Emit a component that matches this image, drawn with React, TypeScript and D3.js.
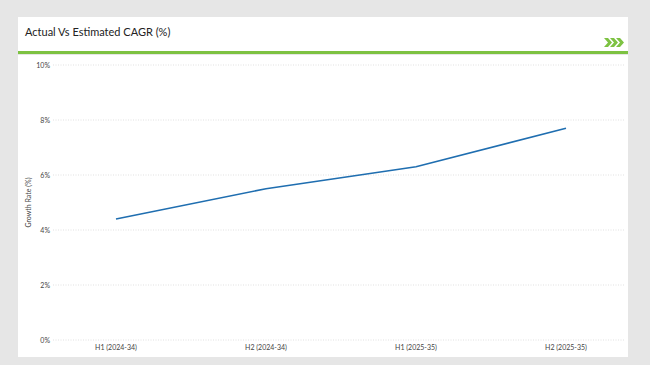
import * as d3 from 'd3';
import { useEffect, useRef } from 'react';

const categories = ['H1 (2024-34)', 'H2 (2024-34)', 'H1 (2025-35)', 'H2 (2025-35)'];
const growthValues = [4.4, 5.5, 6.3, 7.7];
const yTicks = [0, 2, 4, 6, 8, 10];

const W = 650;
const H = 365;

export default function App() {
  const svgRef = useRef<SVGSVGElement>(null);

  useEffect(() => {
    if (!svgRef.current) return;
    const svg = d3.select(svgRef.current);
    svg.selectAll('*').remove();

    const font = 'Lato, "Open Sans", sans-serif';

    // background + panels
    svg.append('rect').attr('width', W).attr('height', H).attr('fill', '#e6e6e6');
    svg.append('rect').attr('x', 18).attr('y', 17).attr('width', 610).attr('height', 35).attr('fill', '#fff');
    svg.append('rect').attr('x', 18).attr('y', 55).attr('width', 610).attr('height', 302).attr('fill', '#fff');
    svg.append('rect').attr('x', 18).attr('y', 51).attr('width', 610).attr('height', 3).attr('fill', '#7dc242');

    svg
      .append('text')
      .attr('x', 25)
      .attr('y', 36)
      .attr('font-family', font)
      .attr('font-size', 11)
      .attr('fill', '#222')
      .text('Actual Vs Estimated CAGR (%)');

    // chevrons
    const chev = svg.append('g').attr('fill', '#7dc242');
    [0, 6, 12].forEach((dx) => {
      const x = 604 + dx;
      chev
        .append('path')
        .attr('d', `M${x},38 L${x + 4},38 L${x + 8},42.5 L${x + 4},47 L${x},47 L${x + 4},42.5 Z`);
    });

    const left = 53;
    const right = 625;
    // category centres sit on 150px steps
    const x = d3.scalePoint<string>().domain(categories).range([41, 641]).padding(0.5);
    const y = d3.scaleLinear().domain([0, 10]).range([340, 65]);

    // grid
    svg
      .append('g')
      .selectAll('line')
      .data(yTicks)
      .enter()
      .append('line')
      .attr('x1', left)
      .attr('x2', right)
      .attr('y1', (d) => y(d))
      .attr('y2', (d) => y(d))
      .attr('stroke', '#d9d9d9')
      .attr('stroke-width', 0.8)
      .attr('stroke-dasharray', '1,1.5');

    svg
      .append('g')
      .selectAll('text')
      .data(yTicks)
      .enter()
      .append('text')
      .attr('x', 50)
      .attr('y', (d) => y(d) + 2.5)
      .attr('text-anchor', 'end')
      .attr('font-family', font)
      .attr('font-size', 7)
      .attr('fill', '#444')
      .text((d) => `${d}%`);

    svg
      .append('g')
      .selectAll('text')
      .data(categories)
      .enter()
      .append('text')
      .attr('x', (d) => x(d) ?? 0)
      .attr('y', 350)
      .attr('text-anchor', 'middle')
      .attr('font-family', font)
      .attr('font-size', 7)
      .attr('fill', '#444')
      .text((d) => d);

    svg
      .append('text')
      .attr('transform', `translate(31,${y(5)}) rotate(-90)`)
      .attr('text-anchor', 'middle')
      .attr('font-family', font)
      .attr('font-size', 7)
      .attr('fill', '#444')
      .text('Growth Rate (%)');

    const line = d3
      .line<number>()
      .x((_d, i) => x(categories[i]) ?? 0)
      .y((d) => y(d));

    svg
      .append('path')
      .datum(growthValues)
      .attr('d', line)
      .attr('fill', 'none')
      .attr('stroke', '#1f6eb0')
      .attr('stroke-width', 1.6);
  }, []);

  return (
    <div style={{ position: 'fixed', left: 0, top: 0, width: W, height: H }}>
      <svg ref={svgRef} width={W} height={H} style={{ display: 'block' }} />
    </div>
  );
}
